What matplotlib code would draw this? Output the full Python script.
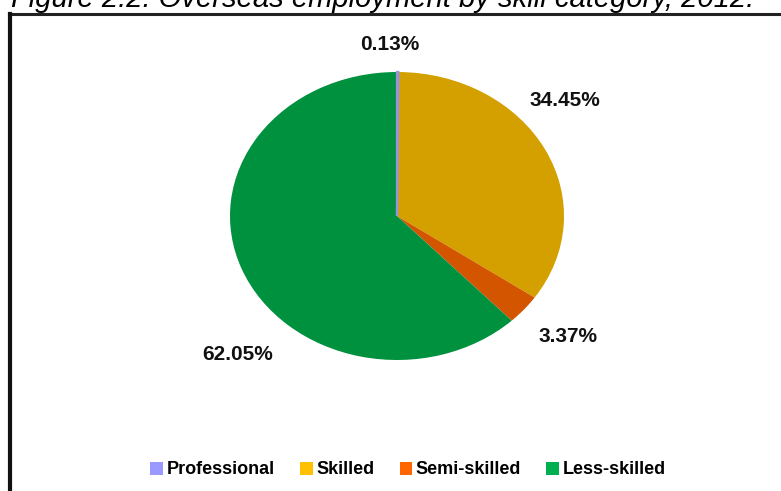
import matplotlib.pyplot as plt
from matplotlib.lines import Line2D
from matplotlib.patches import Patch

plt.rcParams['font.family'] = ['Liberation Sans', 'DejaVu Sans']

# data
categories = ['Professional', 'Skilled', 'Semi-skilled', 'Less-skilled']
shares = [0.13, 34.45, 3.37, 62.05]
labels = ['0.13%', '34.45%', '3.37%', '62.05%']
wedge_colors = ['#9494E0', '#D4A000', '#D45500', '#00913F']
legend_colors = ['#9999FF', '#FFC000', '#FF6600', '#00B050']

W, H = 781, 491
fig = plt.figure(figsize=(W / 100, H / 100), dpi=100)

# title (cut off at the top like in the source)
fig.text(383 / W, 1 - 7 / H, 'Figure 2.2: Overseas employment by skill category, 2012:',
         ha='center', va='baseline', fontsize=21, style='italic')

# frame lines
fig.add_artist(Line2D([9 / W, 1], [1 - 14 / H, 1 - 14 / H], transform=fig.transFigure,
                      color='#222222', lw=2.2))
fig.add_artist(Line2D([10 / W, 10 / W], [0, 1 - 14 / H], transform=fig.transFigure,
                      color='#111111', lw=3))

# pie (slightly elliptical)
cx, cy, rx, ry = 397, 216, 167, 144
ax = fig.add_axes([(cx - rx) / W, 1 - (cy + ry) / H, 2 * rx / W, 2 * ry / H])
wedges, _ = ax.pie(shares, colors=wedge_colors, startangle=90, counterclock=False,
                   wedgeprops=dict(linewidth=0))
# the tiny professional slice shows as a visible strip
wedges[0].set_edgecolor(wedge_colors[0])
wedges[0].set_linewidth(1.6)
wedges[0].set_zorder(3)
ax.set_aspect('auto')
ax.set_xlim(-1, 1)
ax.set_ylim(-1, 1)

# data labels
label_pos = [(390, 45), (565, 101), (568, 336), (238, 354)]
for txt, (x, y) in zip(labels, label_pos):
    fig.text(x / W, 1 - y / H, txt, ha='center', va='center',
             fontsize=15, fontweight='bold', color='#111111')

# legend
handles = [Patch(facecolor=c, edgecolor='none') for c in legend_colors]
fig.legend(handles, categories, loc='center', bbox_to_anchor=(408 / W, 1 - 470 / H),
           ncol=4, frameon=False, prop=dict(size=13, weight='bold'),
           handlelength=0.7, handleheight=0.7, handletextpad=0.2, columnspacing=1.4)

fig.savefig('out.png', dpi=100)
